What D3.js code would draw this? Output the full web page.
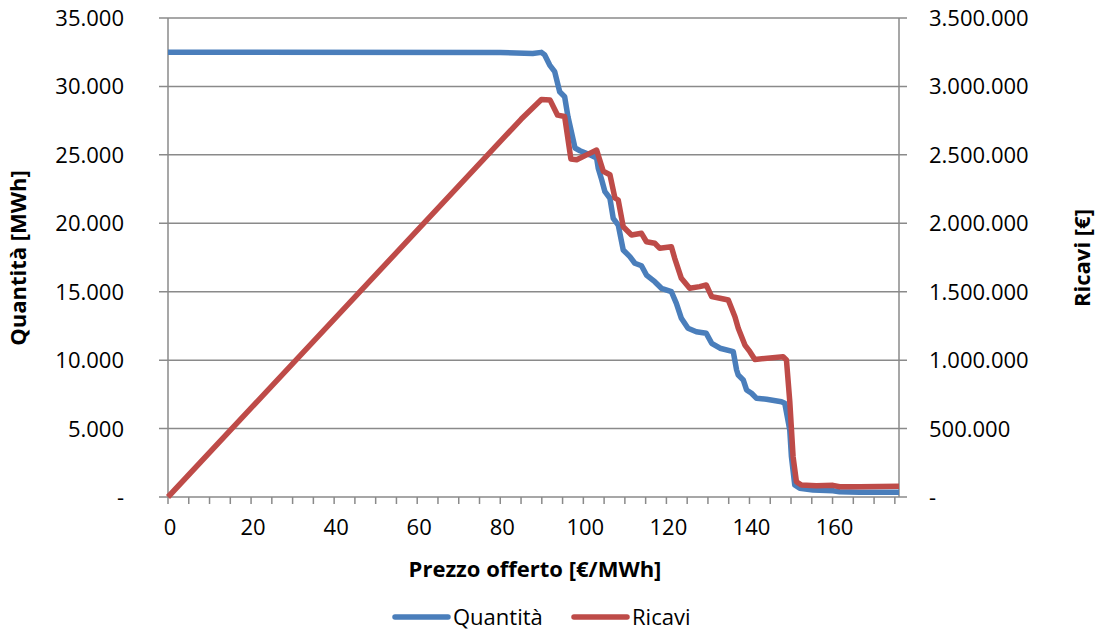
<!doctype html>
<html lang="it">
    <head>
        <meta charset="utf-8">
        <style>
        body, html{
            margin:0;
            padding:0;
            background:white;
            overflow:hidden;
        }
        svg text{
            font-family:"Open Sans", sans-serif;
            fill:#000;
        }
        </style>
    </head>
    <body>
        <div id="chart"></div>
        <script src="https://d3js.org/d3.v7.min.js"></script>
        <script>

// prezzo offerto [€/MWh] -> quantità [MWh]
const qPrice = [0, 80, 87.8, 89.9, 90.7, 91.9, 93.1, 94.3, 95.5, 96.3, 98.0, 99.2, 101.6, 103.2, 103.6, 104.4, 105.2,
  106.4, 107.2, 108.4, 109.6, 111.2, 112.4, 114.0, 115.2, 117.2, 118.8, 121.2, 122.4, 123.6, 125.2, 127.2, 129.6,
  130.9, 132.9, 136.1, 136.9, 137.3, 138.5, 139.3, 140.5, 141.7, 144.1, 147.7, 148.5, 149.7, 150.1, 150.9, 152.1,
  155.3, 160.1, 161.7, 166.5, 176];
const quantita = [32500, 32480, 32400, 32490, 32300, 31560, 31080, 29610, 29250, 27790, 25500, 25300, 25000, 24770, 24000, 23200, 22310,
  21830, 20360, 19870, 18050, 17560, 17080, 16900, 16220, 15730, 15250, 15000, 14150, 13060, 12330, 12080, 11960,
  11230, 10870, 10620, 9280, 8910, 8550, 7820, 7580, 7210, 7140, 6960, 6850, 4900, 2940, 880, 640,
  510, 460, 390, 340, 340];

// prezzo offerto [€/MWh] -> ricavi [€]
const rPrice = [0, 85, 89.9, 92.0, 93.8, 95.5, 97.0, 98.4, 100.8, 103.2, 104.8, 106.4, 107.6, 108.4, 109.6, 111.6, 114.0,
  115.2, 117.2, 118.4, 121.2, 122.0, 123.6, 125.6, 128.0, 129.6, 130.9, 132.9, 134.9, 136.5, 137.3, 138.9, 140.1,
  141.3, 148.1, 148.9, 149.7, 150.5, 151.3, 152.5, 156.1, 160.1, 161.7, 166.5, 176];
const ricavi = [0, 2760000, 2905000, 2900000, 2790000, 2780000, 2470000, 2465000, 2500000, 2535000, 2380000, 2355000, 2185000, 2170000, 1975000, 1914000, 1927000,
  1865000, 1854000, 1817000, 1829000, 1744000, 1598000, 1525000, 1537000, 1549000, 1464000, 1452000, 1439000, 1317000, 1233000, 1110000, 1062000,
  1005000, 1025000, 1001000, 700000, 294000, 112000, 88000, 83000, 85000, 75000, 75000, 78000];

const xTickLabels = [0, 20, 40, 60, 80, 100, 120, 140, 160];
const xTickMarks = d3.range(0, 176, 5);
const leftTicks = [0, 5000, 10000, 15000, 20000, 25000, 30000, 35000];
const rightTicks = [0, 500000, 1000000, 1500000, 2000000, 2500000, 3000000, 3500000];

const blue = "#4a7ebb";
const red = "#be4b48";
const grid = "#8a8a8a";

const it = d3.formatLocale({decimal: ",", thousands: ".", grouping: [3], currency: ["€", ""]});
const fmt = (v) => v === 0 ? "-" : it.format(",")(v);

const width = 1101, height = 630;
const m = {left: 168, right: 899, top: 18, bottom: 497};

const svg = d3.select("#chart").append("svg")
  .attr("width", width)
  .attr("height", height);

const x = d3.scaleLinear().domain([0, 176]).range([m.left, m.right]);
const yL = d3.scaleLinear().domain([0, 35000]).range([m.bottom, m.top]);
const yR = d3.scaleLinear().domain([0, 3500000]).range([m.bottom, m.top]);

// gridlines + ticks sporgenti
svg.append("g").selectAll("line").data(leftTicks).enter().append("line")
  .attr("x1", m.left - 9)
  .attr("x2", m.right + 8)
  .attr("y1", (d) => yL(d))
  .attr("y2", (d) => yL(d))
  .style("stroke", grid)
  .style("stroke-width", 1.5);

// assi verticali
[m.left, m.right].forEach((xx) => {
  svg.append("line")
    .attr("x1", xx).attr("x2", xx)
    .attr("y1", m.top).attr("y2", m.bottom)
    .style("stroke", grid)
    .style("stroke-width", 1.5);
});

// tick asse x
svg.append("g").selectAll("line").data(xTickMarks).enter().append("line")
  .attr("x1", (d) => x(d))
  .attr("x2", (d) => x(d))
  .attr("y1", m.bottom)
  .attr("y2", m.bottom + 7)
  .style("stroke", grid)
  .style("stroke-width", 1.5);

svg.append("g").selectAll("text").data(xTickLabels).enter().append("text")
  .attr("x", (d) => x(d) + 2)
  .attr("y", 535)
  .attr("text-anchor", "middle")
  .style("font-size", "22px")
  .text((d) => d);

svg.append("g").selectAll("text").data(leftTicks).enter().append("text")
  .attr("x", 124)
  .attr("y", (d) => yL(d) + 8)
  .attr("text-anchor", "end")
  .style("font-size", "22px")
  .text((d) => fmt(d));

svg.append("g").selectAll("text").data(rightTicks).enter().append("text")
  .attr("x", 929)
  .attr("y", (d) => yR(d) + 8)
  .attr("text-anchor", "start")
  .style("font-size", "22px")
  .text((d) => fmt(d));

// titoli assi
svg.append("text")
  .attr("x", 535).attr("y", 577)
  .attr("text-anchor", "middle")
  .style("font-size", "22px")
  .style("font-weight", "bold")
  .text("Prezzo offerto [€/MWh]");

svg.append("text")
  .attr("transform", "translate(26,258) rotate(-90)")
  .attr("text-anchor", "middle")
  .style("font-size", "22px")
  .style("font-weight", "bold")
  .text("Quantità [MWh]");

svg.append("text")
  .attr("transform", "translate(1090,258) rotate(-90)")
  .attr("text-anchor", "middle")
  .style("font-size", "22px")
  .style("font-weight", "bold")
  .text("Ricavi [€]");

// serie
const lineQ = d3.line().x((d, i) => x(qPrice[i])).y((d) => yL(d));
const lineR = d3.line().x((d, i) => x(rPrice[i])).y((d) => yR(d));

svg.append("path")
  .datum(quantita)
  .attr("d", lineQ)
  .style("fill", "none")
  .style("stroke", blue)
  .style("stroke-width", 5.5)
  .style("stroke-linejoin", "round");

svg.append("path")
  .datum(ricavi)
  .attr("d", lineR)
  .style("fill", "none")
  .style("stroke", red)
  .style("stroke-width", 5.5)
  .style("stroke-linejoin", "round");

// legenda
const legend = [
  {name: "Quantità", color: blue, x: 395},
  {name: "Ricavi", color: red, x: 574}
];
const lg = svg.append("g").selectAll("g").data(legend).enter().append("g");
lg.append("line")
  .attr("x1", (d) => d.x)
  .attr("x2", (d) => d.x + 53)
  .attr("y1", 617)
  .attr("y2", 617)
  .style("stroke", (d) => d.color)
  .style("stroke-width", 5.5)
  .style("stroke-linecap", "round");
lg.append("text")
  .attr("x", (d) => d.x + 58)
  .attr("y", 625)
  .style("font-size", "22px")
  .text((d) => d.name);

        </script>
    </body>
</html>
